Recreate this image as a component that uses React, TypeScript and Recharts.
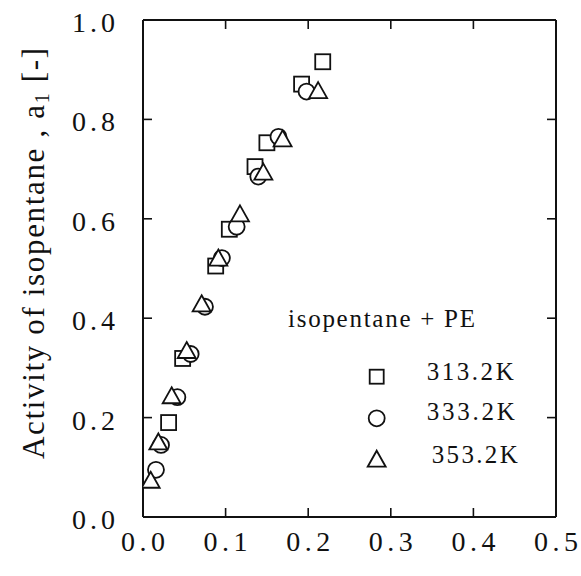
import React from 'react';
import { ScatterChart, Scatter, XAxis, YAxis, Legend } from 'recharts';

// 313.2K (squares)
const x313 = [0.031, 0.048, 0.088, 0.1045, 0.1356, 0.15, 0.192, 0.2176];
const y313 = [0.19, 0.319, 0.505, 0.579, 0.705, 0.753, 0.871, 0.916];
// 333.2K (circles)
const x333 = [0.0157, 0.0218, 0.0416, 0.0577, 0.075, 0.0955, 0.1134, 0.1396, 0.164, 0.198];
const y333 = [0.095, 0.145, 0.241, 0.328, 0.423, 0.521, 0.584, 0.685, 0.765, 0.856];
// 353.2K (triangles)
const x353 = [0.0093, 0.0186, 0.0347, 0.0529, 0.071, 0.0912, 0.1174, 0.1457, 0.169, 0.212];
const y353 = [0.075, 0.152, 0.245, 0.336, 0.43, 0.522, 0.611, 0.695, 0.762, 0.859];

const xTicks = [0, 0.1, 0.2, 0.3, 0.4, 0.5];
const yTicks = [0, 0.2, 0.4, 0.6, 0.8, 1.0];
const seriesLabels = ['313.2K', '333.2K', '353.2K'];
const legendTitle = 'isopentane + PE';

const toPts = (xs: number[], ys: number[]) => xs.map((x, i) => ({ x, y: ys[i] }));
const d313 = toPts(x313, y313);
const d333 = toPts(x333, y333);
const d353 = toPts(x353, y353);

const INK = '#111';
const SERIF = 'Liberation Serif';
const TS: React.CSSProperties = { fontFamily: SERIF };

const SquareMark = (p: any) => (
  <rect x={p.cx - 7.5} y={p.cy - 7.5} width={15} height={15} fill="#fff" stroke={INK} strokeWidth={1.8} />
);
const CircleMark = (p: any) => (
  <circle cx={p.cx} cy={p.cy} r={8} fill="#fff" stroke={INK} strokeWidth={1.8} />
);
const TriMark = (p: any) => (
  <polygon
    points={`${p.cx},${p.cy - 8} ${p.cx + 9},${p.cy + 8} ${p.cx - 9},${p.cy + 8}`}
    fill="#fff"
    stroke={INK}
    strokeWidth={1.8}
    strokeLinejoin="miter"
  />
);

const TL = 9;

const BottomTick = (p: any) => {
  const v = p.payload.value;
  const edge = v === 0 || v === 0.5;
  return (
    <g>
      {!edge && <line x1={p.x} y1={p.y} x2={p.x} y2={p.y - TL} stroke={INK} strokeWidth={1.6} />}
      <text x={p.x} y={p.y + 34} textAnchor="middle" fontSize={28} fontFamily={SERIF} style={TS} fill={INK} textLength={44} lengthAdjust="spacing">
        {v.toFixed(1)}
      </text>
    </g>
  );
};
const TopTick = (p: any) => {
  const v = p.payload.value;
  if (v === 0 || v === 0.5) return <g />;
  return <line x1={p.x} y1={p.y} x2={p.x} y2={p.y + TL} stroke={INK} strokeWidth={1.6} />;
};
const LeftTick = (p: any) => {
  const v = p.payload.value;
  const edge = v === 0 || v === 1;
  return (
    <g>
      {!edge && <line x1={p.x} y1={p.y} x2={p.x + TL} y2={p.y} stroke={INK} strokeWidth={1.6} />}
      <text x={115} y={p.y + 12} textAnchor="end" fontSize={28} fontFamily={SERIF} style={TS} fill={INK} textLength={43} lengthAdjust="spacing">
        {v.toFixed(1)}
      </text>
    </g>
  );
};
const RightTick = (p: any) => {
  const v = p.payload.value;
  if (v === 0 || v === 1) return <g />;
  return <line x1={p.x} y1={p.y} x2={p.x - TL} y2={p.y} stroke={INK} strokeWidth={1.6} />;
};

const YTitle = () => (
  <text
    transform="translate(44,253.5) rotate(-90)"
    textAnchor="middle"
    fontSize={31}
    fontFamily={SERIF}
    style={TS}
    fill={INK}
    textLength={411}
    lengthAdjust="spacing"
  >
    Activity of isopentane , a
    <tspan fontSize={20} dy={5}>1</tspan>
    <tspan dy={-5}> [-]</tspan>
  </text>
);

const LegendBox = () => (
  <svg width={270} height={190} style={{ overflow: 'visible' }}>
    <text x={18} y={36.7} fontSize={25} fontFamily={SERIF} style={TS} fill={INK} textLength={187} lengthAdjust="spacing">
      {legendTitle}
    </text>
    <rect x={106.7 - 7} y={86.7 - 7} width={14} height={14} fill="#fff" stroke={INK} strokeWidth={1.8} />
    <text x={156.7} y={90} fontSize={25} fontFamily={SERIF} style={TS} fill={INK} textLength={87} lengthAdjust="spacing">
      {seriesLabels[0]}
    </text>
    <circle cx={106.7} cy={128.3} r={8} fill="#fff" stroke={INK} strokeWidth={1.8} />
    <text x={156.7} y={130} fontSize={25} fontFamily={SERIF} style={TS} fill={INK} textLength={88} lengthAdjust="spacing">
      {seriesLabels[1]}
    </text>
    <polygon points={`106.7,160.7 115.7,176.7 97.7,176.7`} fill="#fff" stroke={INK} strokeWidth={1.8} />
    <text x={161.7} y={173.3} fontSize={25} fontFamily={SERIF} style={TS} fill={INK} textLength={86} lengthAdjust="spacing">
      {seriesLabels[2]}
    </text>
  </svg>
);

export default function App() {
  return (
    <div style={{ width: 581, height: 576, background: '#fff', position: 'relative', fontFamily: SERIF }}>
      <style>{'body{margin:0;background:#fff}'}</style>
      <ScatterChart width={581} height={576} margin={{ top: 0, right: 0, bottom: 0, left: 0 }}>
        <XAxis
          xAxisId="bottom"
          orientation="bottom"
          type="number"
          dataKey="x"
          domain={[0, 0.5]}
          ticks={xTicks}
          height={59}
          tickSize={0}
          tickMargin={0}
          tick={BottomTick}
          axisLine={{ stroke: INK, strokeWidth: 2 }}
          tickLine={false}
          interval={0}
          allowDataOverflow
        />
        <XAxis
          xAxisId="top"
          orientation="top"
          type="number"
          dataKey="x"
          domain={[0, 0.5]}
          ticks={xTicks}
          height={20}
          tickSize={0}
          tickMargin={0}
          tick={TopTick}
          axisLine={{ stroke: INK, strokeWidth: 2 }}
          tickLine={false}
          interval={0}
          allowDataOverflow
        />
        <YAxis
          yAxisId="left"
          orientation="left"
          type="number"
          dataKey="y"
          domain={[0, 1]}
          ticks={yTicks}
          width={143}
          tickSize={0}
          tickMargin={0}
          tick={LeftTick}
          axisLine={{ stroke: INK, strokeWidth: 2 }}
          tickLine={false}
          interval={0}
          allowDataOverflow
          label={{ content: () => <YTitle /> }}
        />
        <YAxis
          yAxisId="right"
          orientation="right"
          type="number"
          dataKey="y"
          domain={[0, 1]}
          ticks={yTicks}
          width={25}
          tickSize={0}
          tickMargin={0}
          tick={RightTick}
          axisLine={{ stroke: INK, strokeWidth: 2 }}
          tickLine={false}
          interval={0}
          allowDataOverflow
        />
        <Legend
          layout="vertical"
          align="center"
          verticalAlign="middle"
          wrapperStyle={{ left: 270, top: 290, width: 270, height: 190 }}
          content={() => <LegendBox />}
        />
        <Scatter name={seriesLabels[0]} data={d313} xAxisId="bottom" yAxisId="left" shape={SquareMark} isAnimationActive={false} />
        <Scatter name={seriesLabels[1]} data={d333} xAxisId="bottom" yAxisId="left" shape={CircleMark} isAnimationActive={false} />
        <Scatter name={seriesLabels[2]} data={d353} xAxisId="bottom" yAxisId="left" shape={TriMark} isAnimationActive={false} />
      </ScatterChart>
    </div>
  );
}
